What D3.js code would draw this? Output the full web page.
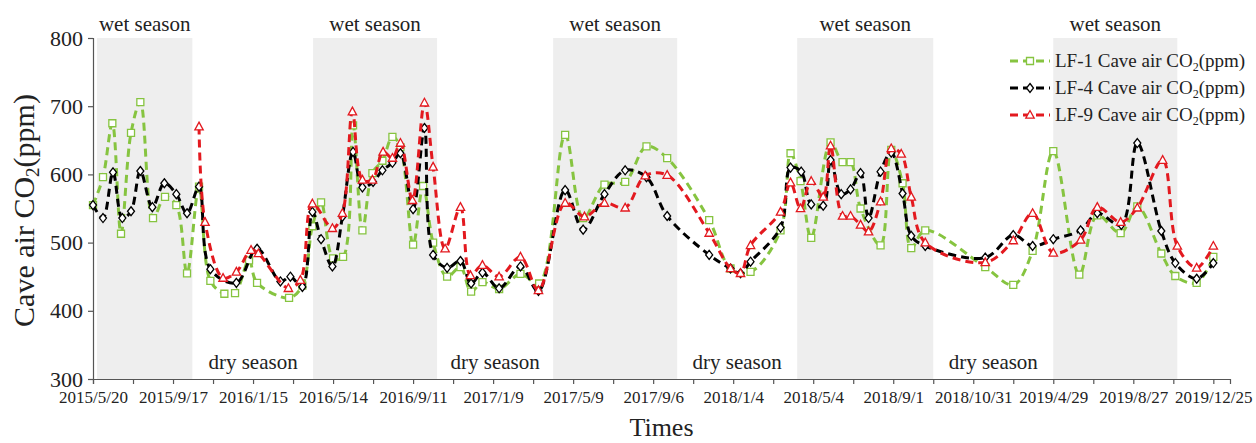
<!DOCTYPE html>
<html>
<head>
<meta charset="utf-8">
<script src="https://cdn.jsdelivr.net/npm/d3@7"></script>
<style>
  body { margin: 0; background: #fff; }
  text { font-family: "Liberation Serif", "Times New Roman", serif; fill: #222; }
</style>
</head>
<body>
<div id="chart"></div>
<script>
// sampling days since 2015/5/20
const lf1Days = [0, 15, 29, 42, 57, 71, 90, 108, 125, 141, 159, 176, 197, 213, 234, 246, 294, 314, 329, 342,
  360, 375, 390, 404, 419, 434, 449, 461, 480, 495, 510, 531, 551, 567, 584, 609, 641, 669, 708, 735,
  767, 798, 830, 861, 924, 956, 986, 1031, 1046, 1061, 1077, 1106, 1124, 1136, 1151, 1181, 1197, 1214, 1227, 1248,
  1338, 1380, 1409, 1440, 1479, 1506, 1541, 1566, 1602, 1623, 1655, 1680];
const lf1Values = [555, 596, 675, 513, 661, 706, 536, 567, 555, 455, 582, 444, 425, 426, 474, 441, 419, 437, 524, 559,
  477, 479, 672, 518, 602, 620, 655, 640, 497, 583, 500, 450, 464, 428, 442, 432, 454, 440, 658, 536,
  585, 589, 641, 624, 533, 462, 457, 518, 631, 590, 507, 647, 618, 618, 550, 496, 636, 587, 492, 518,
  464, 438, 488, 634, 453, 540, 514, 553, 484, 451, 441, 479];

const lf4Days = [0, 15, 30, 44, 57, 71, 89, 107, 125, 141, 159, 176, 215, 246, 281, 296, 314, 329, 342, 359,
  374, 390, 404, 420, 434, 449, 461, 480, 497, 510, 531, 551, 567, 584, 609, 641, 668, 708, 735, 767,
  798, 830, 861, 924, 956, 971, 986, 1031, 1046, 1062, 1077, 1095, 1106, 1122, 1136, 1151, 1163, 1181, 1197, 1214,
  1227, 1248, 1338, 1380, 1409, 1440, 1481, 1506, 1542, 1566, 1602, 1623, 1655, 1680];
const lf4Values = [555, 536, 603, 536, 546, 605, 552, 587, 571, 543, 582, 461, 441, 491, 443, 450, 435, 545, 505, 465,
  538, 633, 581, 589, 606, 617, 631, 549, 668, 482, 463, 473, 440, 456, 433, 465, 429, 577, 519, 571,
  606, 596, 539, 482, 462, 455, 472, 522, 610, 604, 556, 554, 621, 571, 578, 602, 536, 604, 632, 572,
  510, 495, 478, 511, 495, 505, 518, 543, 526, 646, 517, 470, 447, 470];

const lf9Days = [159, 168, 195, 215, 237, 248, 293, 311, 329, 359, 374, 389, 404, 419, 435, 449, 461, 479, 497, 510,
  528, 551, 566, 584, 609, 641, 668, 708, 737, 767, 798, 828, 861, 924, 956, 971, 986, 1031, 1046, 1061,
  1077, 1095, 1106, 1124, 1136, 1151, 1163, 1181, 1197, 1212, 1227, 1248, 1338, 1380, 1409, 1440, 1481, 1506, 1541, 1566,
  1604, 1626, 1655, 1680];
const lf9Values = [670, 530, 448, 457, 489, 484, 433, 445, 557, 521, 543, 692, 592, 592, 633, 624, 646, 562, 705, 611,
  491, 552, 452, 467, 450, 479, 430, 558, 538, 558, 551, 598, 599, 514, 462, 455, 496, 545, 588, 550,
  590, 567, 642, 539, 539, 526, 516, 560, 638, 630, 567, 500, 471, 503, 543, 485, 504, 552, 530, 551,
  621, 495, 463, 495];

const seriesNames = ["LF-1 Cave air CO", "LF-4 Cave air CO", "LF-9 Cave air CO"];
const seriesColors = ["#86c440", "#000000", "#e3191f"];
const seriesMarkers = ["square", "diamond", "triangle"];

const tickLabels = ["2015/5/20", "2015/9/17", "2016/1/15", "2016/5/14", "2016/9/11", "2017/1/9", "2017/5/9",
  "2017/9/6", "2018/1/4", "2018/5/4", "2018/9/1", "2018/10/31", "2019/4/29", "2019/8/27", "2019/12/25"];
const yTicks = [300, 400, 500, 600, 700, 800];

const wetStart = [6, 330, 690, 1056, 1440];
const wetEnd = [149, 516, 876, 1260, 1626];
const dryLabelDays = [240, 603, 966, 1350];

const W = 1256, H = 443;
const margin = { left: 93, top: 38, right: 26, bottom: 64 };

const svg = d3.select("#chart").append("svg").attr("width", W).attr("height", H);

const x = d3.scaleLinear().domain([0, 1705]).range([margin.left, W - margin.right]);
const y = d3.scaleLinear().domain([300, 800]).range([H - margin.bottom, margin.top]);

// wet season bands
svg.append("g").selectAll("rect")
  .data(wetStart)
  .join("rect")
  .attr("x", (d) => x(d))
  .attr("y", y(800))
  .attr("width", (d, i) => x(wetEnd[i]) - x(d))
  .attr("height", y(300) - y(800))
  .attr("fill", "#eeeeee");

svg.append("g").selectAll("text")
  .data(wetStart)
  .join("text")
  .attr("x", (d, i) => x((d + wetEnd[i]) / 2))
  .attr("y", 31)
  .attr("text-anchor", "middle")
  .attr("font-size", 21)
  .text("wet season");

svg.append("g").selectAll("text")
  .data(dryLabelDays)
  .join("text")
  .attr("x", (d) => x(d))
  .attr("y", 369)
  .attr("text-anchor", "middle")
  .attr("font-size", 21)
  .text("dry season");

// axes
const xAxis = d3.axisBottom(x)
  .tickValues(d3.range(0, 1681, 60))
  .tickSize(5)
  .tickFormat((d, i) => (i % 2 === 0 ? tickLabels[i / 2] : ""));
const gx = svg.append("g").attr("transform", `translate(0,${y(300)})`).call(xAxis);
gx.select(".domain").attr("stroke", "#555").attr("stroke-width", 1.2);
gx.selectAll(".tick line").attr("stroke", "#555").attr("stroke-width", 1.2);
gx.selectAll(".tick text").attr("font-size", 17).attr("font-family", "Liberation Serif, serif")
  .attr("fill", "#222").attr("y", 12).attr("dy", "0.71em");

const yAxis = d3.axisLeft(y).tickValues(yTicks).tickSize(5).tickPadding(5);
const gy = svg.append("g").attr("transform", `translate(${margin.left},0)`).call(yAxis);
gy.select(".domain").attr("stroke", "#555").attr("stroke-width", 1.2);
gy.selectAll(".tick line").attr("stroke", "#555").attr("stroke-width", 1.2);
gy.selectAll(".tick text").attr("font-size", 22).attr("font-family", "Liberation Serif, serif").attr("fill", "#222");

// axis titles
const yTitle = svg.append("text")
  .attr("transform", `translate(34,${(y(300) + y(800)) / 2 + 2}) rotate(-90)`)
  .attr("text-anchor", "middle")
  .attr("font-size", 30);
yTitle.append("tspan").text("Cave air CO");
yTitle.append("tspan").attr("font-size", 19).attr("dy", 5).text("2");
yTitle.append("tspan").attr("dy", -5).text("(ppm)");

svg.append("text")
  .attr("x", (x(0) + x(1705)) / 2)
  .attr("y", 436)
  .attr("text-anchor", "middle")
  .attr("font-size", 26)
  .text("Times");

// series
const series = [
  { days: lf1Days, values: lf1Values },
  { days: lf4Days, values: lf4Values },
  { days: lf9Days, values: lf9Values },
].map((s, i) => ({
  points: s.days.map((d, j) => ({ day: d, v: s.values[j] })),
  color: seriesColors[i],
  marker: seriesMarkers[i],
  name: seriesNames[i],
}));

const line = d3.line()
  .x((d) => x(d.day))
  .y((d) => y(d.v))
  .curve(d3.curveCatmullRom.alpha(0.5));

const markerPath = (type) => {
  if (type === "square") return "M-3.5,-3.5H3.5V3.5H-3.5Z";
  if (type === "diamond") return "M0,-4.5L3.5,0L0,4.5L-3.5,0Z";
  return "M0,-4.5L4.2,3.2H-4.2Z";
};

series.forEach((s) => {
  const g = svg.append("g");
  g.append("path")
    .datum(s.points)
    .attr("d", line)
    .attr("fill", "none")
    .attr("stroke", s.color)
    .attr("stroke-width", 3)
    .attr("stroke-dasharray", "8,5");
  g.selectAll("path.mk")
    .data(s.points)
    .join("path")
    .attr("class", "mk")
    .attr("transform", (d) => `translate(${x(d.day)},${y(d.v)})`)
    .attr("d", markerPath(s.marker))
    .attr("fill", "#fff")
    .attr("stroke", s.color)
    .attr("stroke-width", 1.3);
});

// legend
const legend = svg.append("g").attr("transform", "translate(1010,61)");
series.forEach((s, i) => {
  const row = legend.append("g").attr("transform", `translate(0,${i * 27})`);
  row.append("line")
    .attr("x1", 0).attr("x2", 40)
    .attr("stroke", s.color).attr("stroke-width", 3).attr("stroke-dasharray", "8,5");
  row.append("path")
    .attr("transform", "translate(20,0)")
    .attr("d", markerPath(s.marker))
    .attr("fill", "#fff").attr("stroke", s.color).attr("stroke-width", 1.3);
  const t = row.append("text").attr("x", 45).attr("y", 6).attr("font-size", 19);
  t.append("tspan").text(s.name);
  t.append("tspan").attr("font-size", 12).attr("dy", 4).text("2");
  t.append("tspan").attr("dy", -4).text("(ppm)");
});
</script>
</body>
</html>
